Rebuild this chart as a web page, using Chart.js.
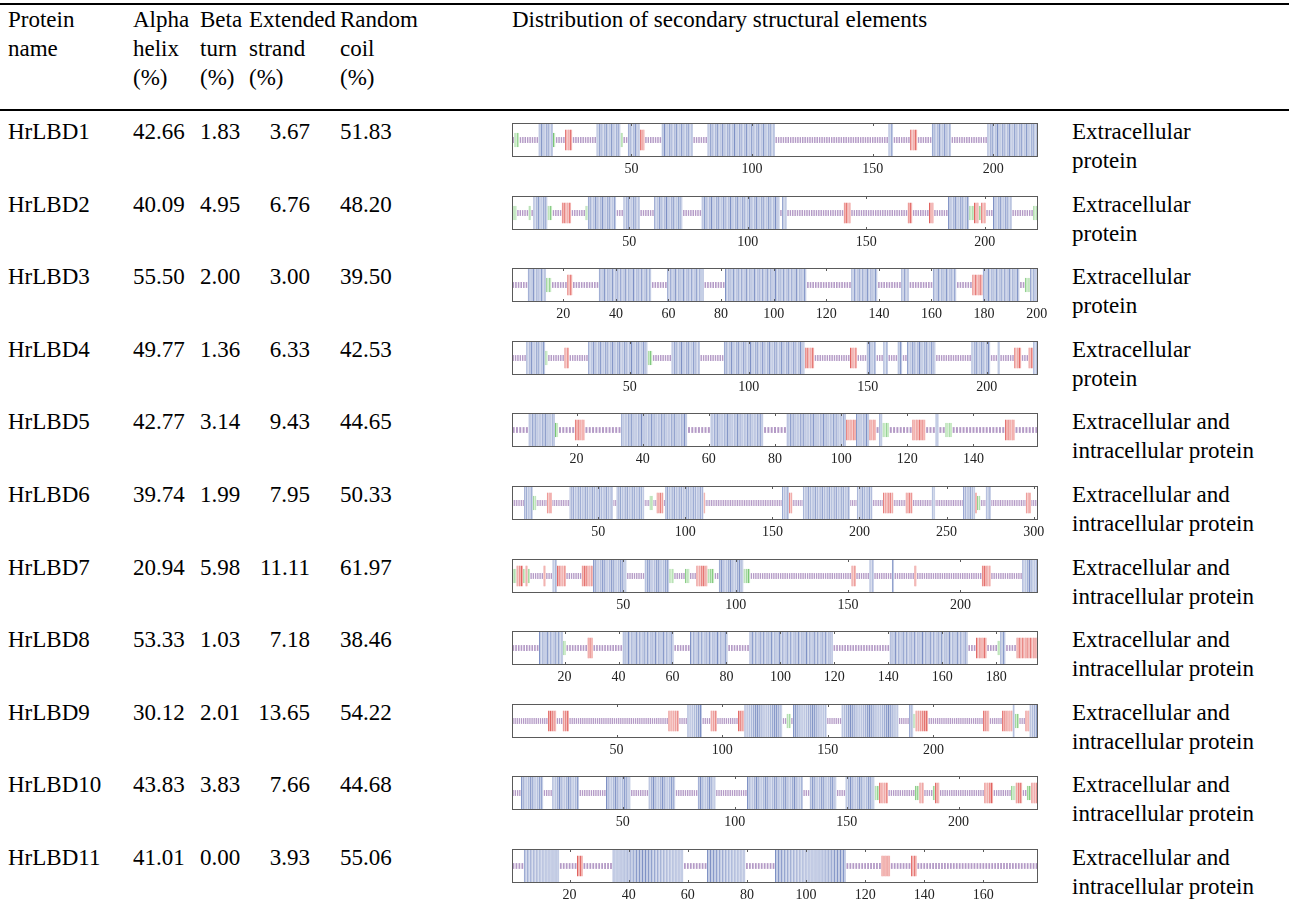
<!DOCTYPE html>
<html>
<head>
<meta charset="utf-8">
<script src="https://cdn.jsdelivr.net/npm/chart.js@4.4.0/dist/chart.umd.min.js"></script>
<style>
body { margin: 0; background: #fff; width: 1289px; height: 907px; overflow: hidden; position: relative;
	font-family: "Liberation Serif", "Times New Roman", serif; font-size: 23px; color: #000; }
.cell { position: absolute; white-space: nowrap; line-height: 29px; }
.right { text-align: right; }
.rule { position: absolute; left: 0; width: 1289px; height: 2px; background: #000; }
canvas.bar { position: absolute; }
</style>
</head>
<body>
<div id="sheet"></div>
<script>
// table values
var proteins = ['HrLBD1', 'HrLBD2', 'HrLBD3', 'HrLBD4', 'HrLBD5', 'HrLBD6', 'HrLBD7', 'HrLBD8', 'HrLBD9', 'HrLBD10', 'HrLBD11'];
var alphaHelix = ['42.66', '40.09', '55.50', '49.77', '42.77', '39.74', '20.94', '53.33', '30.12', '43.83', '41.01'];
var betaTurn = ['1.83', '4.95', '2.00', '1.36', '3.14', '1.99', '5.98', '1.03', '2.01', '3.83', '0.00'];
var extendedStrand = ['3.67', '6.76', '3.00', '6.33', '9.43', '7.95', '11.11', '7.18', '13.65', '7.66', '3.93'];
var randomCoil = ['51.83', '48.20', '39.50', '42.53', '44.65', '50.33', '61.97', '38.46', '54.22', '44.68', '55.06'];
var locations = [
	['Extracellular', 'protein'], ['Extracellular', 'protein'], ['Extracellular', 'protein'], ['Extracellular', 'protein'],
	['Extracellular and', 'intracellular protein'], ['Extracellular and', 'intracellular protein'],
	['Extracellular and', 'intracellular protein'], ['Extracellular and', 'intracellular protein'],
	['Extracellular and', 'intracellular protein'], ['Extracellular and', 'intracellular protein'],
	['Extracellular and', 'intracellular protein']
];

// secondary structure along each sequence, as runs: h helix, t turn, e strand, c coil
var structureRuns = [
	'c1 t2 c8 h6 t1 c4 e3 c10 h10 t1 c2 h5 e2 c7 h13 c6 h28 c47 h2 c7 e3 c6 h8 c15 h21',
	't2 c5 t1 c1 h6 t2 c4 e4 c6 t1 h12 c3 h7 c6 h12 c8 h33 c1 h2 c24 e3 c24 e2 c7 e2 c6 h9 t2 e2 t1 e2 c3 h8 c9 t2',
	'c6 h7 t2 c6 e2 c10 h20 c6 h14 c8 h31 c17 h10 c9 h3 c9 h9 c6 e4 h14 c2 t2 h3',
	'c6 h8 t1 c7 e2 c8 h25 t2 c8 h12 c10 h34 e4 c15 e3 c4 h4 c3 h2 c4 h2 c2 h12 c15 h8 c3 h1 c6 e3 c3 e2 h2',
	'c5 h8 t1 c5 e3 c11 h20 c7 h16 c7 h18 e3 h4 e2 c1 h1 t2 c7 e4 c3 h1 c2 t2 c16 e3 c7',
	'c7 h5 t2 c6 e3 c10 h25 c2 h16 c3 t2 c2 e4 c1 h22 e1 c44 h4 e2 c6 h27 c4 h9 c6 e6 c7 e4 c11 h2 c16 h7 e1 t2 c3 h3 c20 e3 c4',
	't2 e3 t1 e1 t1 c6 e1 c3 h2 e4 c7 e5 h15 c8 h11 t2 c5 t2 c3 e5 t3 c2 h11 t3 c45 e2 c6 h2 c8 h1 c9 e1 c29 e4 c14 h7',
	'c10 h9 t1 c8 e2 c11 h19 c6 h14 c8 h31 c21 h29 c3 e4 c4 t1 h2 c4 e8',
	'c17 e4 c3 e3 c47 e5 c4 h7 c4 e3 c10 e3 h18 c2 t2 c1 h16 c7 h27 c5 h2 t1 e6 c26 e3 c6 e5 h1 t2 c3 e2 h4',
	'c4 h10 c4 h12 c12 h11 c8 h12 c10 h8 c14 h25 c3 h12 c4 h13 t2 e4 c12 t2 e2 c4 t1 e2 c20 e4 c8 t2 e3 c2 t2 e3',
	'c4 h12 c6 e2 c10 h24 c8 h13 c10 h24 c12 e3 c7 e2 c41'
];
var tickSteps = [50, 50, 20, 50, 20, 50, 50, 20, 50, 50, 20];

// column x positions
var columns = { name: 8, alpha: 133, beta: 200, extended: 249, extendedRight: 310, random: 340, chart: 512, location: 1072 };

// header labels
var headers = [
	{ lines: ['Protein', 'name'], x: columns.name },
	{ lines: ['Alpha', 'helix', '(%)'], x: columns.alpha },
	{ lines: ['Beta', 'turn', '(%)'], x: columns.beta },
	{ lines: ['Extended', 'strand', '(%)'], x: columns.extended },
	{ lines: ['Random', 'coil', '(%)'], x: columns.random },
	{ lines: ['Distribution of secondary structural elements'], x: columns.chart }
];

// how each structure type is drawn
var structureStyles = {
	h: { label: 'Alpha helix', half: 1, bg: '#c3cce4', line: '#7d90c4', pct: 1 },
	e: { label: 'Extended strand', half: 0.62, bg: '#f3b3b0', line: '#e0625f', pct: 1 },
	t: { label: 'Beta turn', half: 0.42, bg: '#c9eac5', line: '#77c573', pct: 1 },
	c: { label: 'Random coil', half: 0.17, bg: '#b49ac6', line: '#b49ac6', pct: 0.6 }
};

var layout = {
	topRule: 3, headerTop: 5, headerRule: 109,
	firstBar: 123, rowPitch: 72.6, barRight: 1038,
	padLeft: 2, padRight: 18, padTop: 2, barHeight: 34, axisHeight: 22
};

function addCell(text, x, y, right) {
	var el = document.createElement('div');
	el.className = 'cell' + (right ? ' right' : '');
	el.innerHTML = text;
	if (right) {
		el.style.left = (x - 100) + 'px';
		el.style.width = '100px';
	} else {
		el.style.left = x + 'px';
	}
	el.style.top = y + 'px';
	document.getElementById('sheet').appendChild(el);
}

function addRule(y) {
	var el = document.createElement('div');
	el.className = 'rule';
	el.style.top = y + 'px';
	document.getElementById('sheet').appendChild(el);
}

function parseRuns(runs) {
	var types = [];
	runs.split(' ').forEach(function(run) {
		var n = parseInt(run.substring(1), 10);
		for (var i = 0; i < n; i++) types.push(run.charAt(0));
	});
	return types;
}

// frame round the plot area with small inner ticks, like the original figure
var framePlugin = {
	id: 'frame',
	afterDatasetsDraw: function(chart) {
		var a = chart.chartArea, ctx = chart.ctx, xs = chart.scales.x;
		ctx.save();
		ctx.strokeStyle = '#5a5a5a';
		ctx.lineWidth = 1;
		ctx.strokeRect(a.left + 0.5, a.top + 0.5, a.right - a.left - 1, a.bottom - a.top - 1);
		ctx.beginPath();
		xs.ticks.forEach(function(t) {
			var px = Math.round(xs.getPixelForValue(t.value)) + 0.5;
			ctx.moveTo(px, a.top); ctx.lineTo(px, a.top + 3);
			ctx.moveTo(px, a.bottom); ctx.lineTo(px, a.bottom - 3);
		});
		ctx.stroke();
		ctx.restore();
	}
};

function drawStructure(index, top) {
	var types = parseRuns(structureRuns[index]);
	var len = types.length;
	var step = tickSteps[index];

	var canvas = document.createElement('canvas');
	canvas.className = 'bar';
	canvas.width = layout.barRight - columns.chart + layout.padLeft + layout.padRight;
	canvas.height = layout.padTop + layout.barHeight + layout.axisHeight;
	canvas.style.left = (columns.chart - layout.padLeft) + 'px';
	canvas.style.top = (top - layout.padTop) + 'px';
	document.getElementById('sheet').appendChild(canvas);

	var datasets = ['h', 'e', 't', 'c'].map(function(key) {
		var st = structureStyles[key];
		var data = [];
		types.forEach(function(t, i) {
			if (t === key) data.push({ x: i + 1, y: [-st.half, st.half] });
		});
		return {
			label: st.label,
			data: data,
			grouped: false,
			categoryPercentage: 1,
			barPercentage: st.pct,
			backgroundColor: st.bg,
			borderColor: st.line,
			borderWidth: key === 'c' ? 0 : { left: 1, right: 0, top: 0, bottom: 0 },
			borderSkipped: false,
			inflateAmount: 0
		};
	});

	new Chart(canvas, {
		type: 'bar',
		data: { datasets: datasets },
		options: {
			responsive: false,
			animation: false,
			devicePixelRatio: 1,
			layout: { padding: { left: layout.padLeft, right: layout.padRight, top: layout.padTop, bottom: 0 } },
			plugins: { legend: { display: false }, tooltip: { enabled: false } },
			scales: {
				x: {
					type: 'linear',
					offset: false,
					min: 0.5,
					max: len + 0.5,
					grid: { display: false, drawTicks: false, tickLength: 0 },
					border: { display: false },
					afterBuildTicks: function(scale) {
						var ticks = [];
						for (var v = step; v <= len; v += step) ticks.push({ value: v });
						scale.ticks = ticks;
					},
					afterFit: function(scale) {
						scale.height = layout.axisHeight;
					},
					ticks: {
						autoSkip: false,
						maxRotation: 0,
						padding: 4,
						color: '#222',
						font: { family: '"Liberation Serif", "Times New Roman", serif', size: 14 }
					}
				},
				y: { display: false, min: -1, max: 1 }
			}
		},
		plugins: [framePlugin]
	});
}

// header
addRule(layout.topRule);
headers.forEach(function(h) {
	addCell(h.lines.join('<br>'), h.x, layout.headerTop);
});
addRule(layout.headerRule);

// rows
proteins.forEach(function(name, i) {
	var barTop = Math.round(layout.firstBar + layout.rowPitch * i);
	var textTop = barTop - 6;
	addCell(name, columns.name, textTop);
	addCell(alphaHelix[i], columns.alpha, textTop);
	addCell(betaTurn[i], columns.beta, textTop);
	addCell(extendedStrand[i], columns.extendedRight, textTop, true);
	addCell(randomCoil[i], columns.random, textTop);
	addCell(locations[i].join('<br>'), columns.location, textTop);
	drawStructure(i, barTop);
});
</script>
</body>
</html>
